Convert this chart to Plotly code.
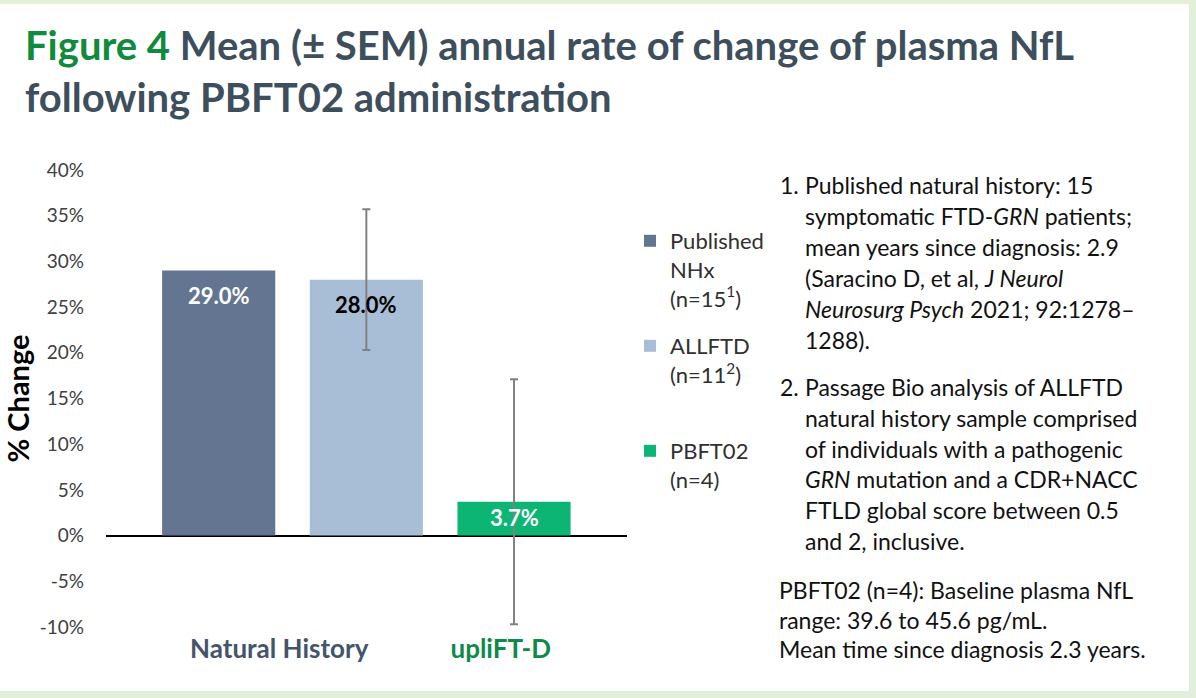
import plotly.graph_objects as go

# ---------------- data ----------------
series_names = ["Published<br>NHx<br>(n=15<sup>1</sup>)", "ALLFTD<br>(n=11<sup>2</sup>)", "PBFT02<br>(n=4)"]
values = [29.0, 28.0, 3.7]
sem = [None, 7.7, 13.4]
value_labels = ["29.0%", "28.0%", "3.7%"]
group_labels = ["Natural History", "upliFT-D"]
group_members = [[0, 1], [2]]
y_ticks = [-10, -5, 0, 5, 10, 15, 20, 25, 30, 35, 40]
y_ticktext = ["-10%", "-5%", "0%", "5%", "10%", "15%", "20%", "25%", "30%", "35%", "40%"]

# ---------------- styles ----------------
W, H = 1196, 698
bar_colors = ["#637591", "#a8bdd6", "#0cb574"]
label_colors = ["#ffffff", "#000000", "#ffffff"]
label_shift = [-25, -25, -16]
group_colors = ["#44546a", "#0e8a4a"]
FONT = "Lato"

fig = go.Figure()
legend_ids = ["legend", "legend2", "legend3"]
for i, (name, v) in enumerate(zip(series_names, values)):
    err = dict(visible=False)
    if sem[i] is not None:
        err = dict(type="data", array=[sem[i]], visible=True,
                   color="#808080", thickness=2, width=4)
    fig.add_trace(go.Bar(
        x=[i], y=[v], name=name, width=0.766,
        marker=dict(color=bar_colors[i], line=dict(width=0)),
        error_y=err, legend=legend_ids[i], hoverinfo="skip",
    ))
    fig.add_annotation(x=i, y=v, text="<b>%s</b>" % value_labels[i], showarrow=False,
                       yshift=label_shift[i], xref="x", yref="y",
                       font=dict(family=FONT, size=22, color=label_colors[i]))

# group tick positions
tickvals = [sum(m) / len(m) - 0.09 for m in group_members]
ticktext = ["<b><span style='color:%s'>%s</span></b>" % (c, t) for c, t in zip(group_colors, group_labels)]

# legends positioned individually
legend_pos = [240, 345, 450]
leg_layout = {}
for lid, py in zip(legend_ids, legend_pos):
    leg_layout[lid] = dict(
        xref="container", yref="container", x=630 / W, y=1 - (py - 20) / H,
        xanchor="left", yanchor="top", valign="top",
        font=dict(family=FONT, size=22, color="#303030"),
        bgcolor="rgba(0,0,0,0)", borderwidth=0,
    )

ml, mr, mt, mb = 106, W - 627, 170, 71
pw, ph = W - ml - mr, H - mt - mb

# right-hand text
x1 = 803
item1 = ["Published natural history: 15", "symptomatic FTD-<i>GRN</i> patients;",
         "mean years since diagnosis: 2.9", "(Saracino D, et al, <i>J Neurol</i>",
         "<i>Neurosurg Psych</i> 2021; 92:1278–", "1288)."]
item2 = ["Passage Bio analysis of ALLFTD", "natural history sample comprised",
         "of individuals with a pathogenic", "<i>GRN</i> mutation and a CDR+NACC",
         "FTLD global score between 0.5", "and 2, inclusive."]
item3 = ["PBFT02 (n=4): Baseline plasma NfL", "range: 39.6 to 45.6 pg/mL.",
         "Mean time since diagnosis 2.3 years."]

def txt(px, py, s):
    fig.add_annotation(xref="paper", yref="paper", x=(px - ml) / pw, y=(H - mb - py) / ph,
                       text=s, showarrow=False, xanchor="left", yanchor="middle",
                       font=dict(family=FONT, size=23, color="#111111"))

txt(778, 185, "1.")
for k, s in enumerate(item1):
    txt(x1, 185 + 31 * k, s)
txt(778, 387, "2.")
for k, s in enumerate(item2):
    txt(x1, 387 + 30.8 * k, s)
for k, s in enumerate(item3):
    txt(777, 590 + 29.5 * k, s)

fig.update_layout(
    width=W, height=H,
    margin=dict(l=ml, r=mr, t=mt, b=mb, pad=0, autoexpand=False),
    paper_bgcolor="#e2f0d9", plot_bgcolor="rgba(0,0,0,0)",
    barmode="overlay",
    title=dict(
        text="<span style='color:#108a3c'>Figure 4</span> Mean (± SEM) annual rate of change of plasma NfL<br>following PBFT02 administration",
        xref="container", yref="container", x=25 / W, y=1 - 60 / H,
        xanchor="left", yanchor="middle",
        font=dict(family=FONT, size=40, color="#3d4f5d", weight="bold"),
    ),
    xaxis=dict(range=[-0.763, 2.765], tickvals=tickvals, ticktext=ticktext,
               showgrid=False, zeroline=False, showline=False, ticks="",
               ticklabelstandoff=4,
               tickfont=dict(family=FONT, size=26), fixedrange=True),
    yaxis=dict(range=[-10, 40], tickmode="array", tickvals=y_ticks, ticktext=y_ticktext,
               showgrid=False, zeroline=True, zerolinecolor="#000000", zerolinewidth=2,
               showline=False, ticks="", ticklabelstandoff=21,
               tickfont=dict(family=FONT, size=19, color="#404040"),
               title=dict(text="<b>% Change</b>", standoff=10,
                          font=dict(family=FONT, size=29, color="#000000"))),
    shapes=[dict(type="rect", xref="paper", yref="paper", layer="below",
                 x0=(0 - ml) / pw, x1=(1189 - ml) / pw,
                 y0=(H - mb - 691) / ph, y1=(H - mb - 4) / ph,
                 fillcolor="#ffffff", line=dict(width=0))],
    showlegend=True,
    **leg_layout,
)

fig.write_html("out.html", config={"displayModeBar": False},
               post_script="document.body.style.margin='0';document.body.style.overflow='hidden';")
